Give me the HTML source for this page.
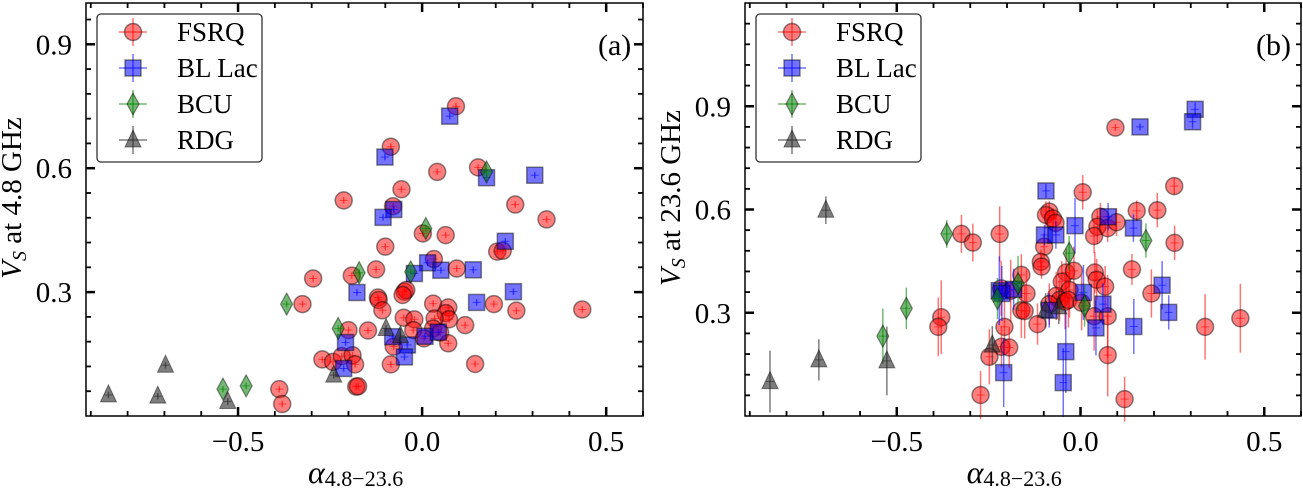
<!DOCTYPE html>
<html><head><meta charset="utf-8"><style>
html,body{margin:0;padding:0;background:#fff;}
svg{display:block;}
svg text{font-family:"Liberation Serif","Times New Roman",serif;}
</style></head><body>
<svg id="fig" width="1303" height="488" viewBox="0 0 1303 488" xmlns="http://www.w3.org/2000/svg" font-family="Liberation Serif, serif">
<g id="pa"></g>
<g id="pb"></g>
</svg>
<script>
// ---- Panel (a) data: alpha_{4.8-23.6} vs V_S at 4.8 GHz ----
const aFsrqX=[.092,-.085,.041,.152,-.056,-.213,-.079,.253,.338,.002,.064,-.100,.204,.219,.032,-.125,.094,-.191,-.296,-.048,-.043,-.053,-.120,-.118,-.325,-.108,.030,.195,.256,.435,.071,.064,.073,-.050,-.021,.034,.117,-.200,-.147,-.024,.030,.049,-.077,.071,.005,-.271,-.242,-.218,-.189,-.182,-.085,.144,-.388,-.380,-.179,-.174];
const aFsrqY=[.750,.652,.591,.602,.549,.522,.508,.512,.476,.442,.438,.410,.398,.400,.380,.355,.357,.340,.333,.301,.305,.293,.287,.281,.271,.256,.272,.271,.255,.258,.263,.249,.234,.238,.234,.236,.220,.208,.207,.208,.212,.202,.168,.176,.188,.137,.131,.145,.147,.125,.125,.126,.065,.029,.071,.072];
const aBllX=[.075,-.101,-.077,-.106,.175,.306,.226,.015,.051,.139,-.177,.248,.148,-.021,-.208,-.080,-.040,-.048,.008,.044,-.213];
const aBllY=[.726,.627,.500,.481,.577,.583,.423,.371,.353,.354,.299,.301,.275,.345,.178,.192,.172,.143,.193,.203,.115];
const aBcuX=[.175,.010,-.031,-.171,-.368,-.228,-.541,-.478];
const aBcuY=[.591,.454,.349,.347,.271,.212,.065,.073];
const aRdgX=[-.852,-.718,-.697,-.528,-.240,-.098,-.059];
const aRdgY=[.051,.048,.123,.035,.099,.212,.194];

// ---- Panel (b) data: alpha_{4.8-23.6} vs V_S at 23.6 GHz ----
const bFsrqX=[.095,.006,.255,.153,.209,-.085,-.094,-.075,-.068,.054,.046,.037,.074,.098,-.324,-.293,-.220,.256,-.099,-.108,-.106,.140,-.161,-.039,-.018,-.051,.039,.044,.067,-.030,-.216,-.190,-.147,-.066,-.057,-.042,-.033,.193,-.085,.003,-.161,-.152,-.379,-.387,-.117,.037,.074,-.207,.339,.435,-.215,-.194,-.248,.074,-.272,.120];
const bFsrqY=[.838,.650,.668,.596,.598,.594,.584,.574,.561,.579,.550,.523,.546,.563,.529,.504,.529,.503,.492,.448,.434,.426,.410,.417,.422,.390,.417,.396,.376,.366,.371,.364,.356,.349,.337,.332,.337,.356,.325,.329,.307,.305,.287,.259,.267,.290,.290,.259,.259,.284,.201,.199,.172,.177,.061,.049];
const bFsrqE=[.01,.05,.025,.03,.05,.03,.04,.03,.03,.04,.05,.05,.04,.04,.055,.055,.08,.05,.04,.035,.035,.045,.06,.07,.07,.06,.06,.06,.06,.08,.08,.09,.07,.07,.06,.08,.08,.07,.06,.08,.08,.08,.107,.085,.06,.1,.12,.08,.095,.1,.06,.06,.08,.12,.07,.065];
const bBllX=[.312,.305,.162,-.094,-.098,-.067,-.015,.075,.144,-.221,-.214,-.182,.008,.222,-.085,.240,.061,.042,.145,-.040,-.209,-.047];
const bBllY=[.891,.855,.840,.654,.526,.526,.553,.579,.546,.364,.356,.368,.359,.380,.307,.301,.325,.256,.260,.187,.126,.097];
const bBllE=[.02,.02,.01,.02,.03,.04,.08,.04,.04,.1,.08,.06,.08,.07,.05,.05,.06,.08,.08,.12,.1,.1];
const bBcuX=[-.364,.178,-.031,-.170,-.226,-.474,-.538,.011];
const bBcuY=[.529,.510,.473,.385,.341,.313,.232,.320];
const bBcuE=[.04,.05,.05,.08,.06,.06,.08,.06];
const bRdgX=[-.693,-.845,-.712,-.527,-.240,-.095,-.059];
const bRdgY=[.598,.100,.163,.160,.206,.307,.317];
const bRdgE=[.04,.09,.06,.1,.055,.05,.05];

const NS="http://www.w3.org/2000/svg";
const FF="Liberation Serif, Times New Roman, serif";
function mk(parent,tag,attrs,text){const e=document.createElementNS(NS,tag);for(const k in attrs)e.setAttribute(k,attrs[k]);if(tag==="text")e.setAttribute("font-family",FF);if(text!==undefined)e.textContent=text;parent.appendChild(e);return e;}

const STY={
 fsrq:{fill:"rgba(255,0,0,0.5)",err:"rgba(255,0,0,0.55)"},
 bll:{fill:"rgba(0,0,255,0.55)",err:"rgba(0,0,255,0.55)"},
 bcu:{fill:"rgba(0,128,0,0.55)",err:"rgba(0,128,0,0.55)"},
 rdg:{fill:"rgba(40,40,40,0.6)",err:"rgba(40,40,40,0.6)"}
};
function marker(g,kind,cx,cy){
 const s=STY[kind];const st="rgba(0,0,0,0.45)";let m;
 if(kind==="fsrq")m=mk(g,"circle",{cx:cx,cy:cy,r:8.5,fill:s.fill,stroke:st,"stroke-width":1.5});
 else if(kind==="bll")m=mk(g,"rect",{x:cx-8,y:cy-8,width:16,height:16,fill:s.fill,stroke:st,"stroke-width":1.5});
 else if(kind==="bcu")m=mk(g,"polygon",{points:`${cx},${cy-11} ${cx+6},${cy} ${cx},${cy+11} ${cx-6},${cy}`,fill:s.fill,stroke:st,"stroke-width":1.2});
 else m=mk(g,"polygon",{points:`${cx},${cy-10} ${cx+8},${cy+7} ${cx-8},${cy+7}`,fill:s.fill,stroke:st,"stroke-width":1});
 return m;
}

function panel(gid,L,R,ymax,ylabel,tag,series){
 const g=document.getElementById(gid);
 const T=3,B=416,xmin=-0.913,xmax=0.6;
 const sx=v=>L+(v-xmin)/(xmax-xmin)*(R-L);
 const sy=v=>B-(v/ymax)*(B-T);
 series.forEach(s=>{
  const sg=mk(g,"g",{});
  
  
  s.x.forEach((xv,i)=>{
   const cx=sx(xv),cy=sy(s.y[i]);const e=s.e?s.e[i]:0.008;
   const eb=mk(sg,"line",{x1:cx,x2:cx,y1:sy(s.y[i]-e),y2:sy(s.y[i]+e),stroke:STY[s.kind].err,"stroke-width":1.5});
   
   
   const m=marker(sg,s.kind,cx,cy);
   
   
   const h=mk(sg,"line",{x1:cx-4,x2:cx+4,y1:cy,y2:cy,stroke:STY[s.kind].err,"stroke-width":1});
   
   
  });
 });
 const fr=mk(g,"rect",{x:L,y:T,width:R-L,height:B-T,fill:"none",stroke:"#000","stroke-width":1.5});
 
 
 for(let k=-9;k<=6;k++){
  const v=k/10,px=sx(v),maj=(k%5===0);const len=maj?9:5,w=maj?2.5:1.8;
  mk(g,"line",{x1:px,x2:px,y1:B,y2:B-len,stroke:"#000","stroke-width":w});
  mk(g,"line",{x1:px,x2:px,y1:T,y2:T+len,stroke:"#000","stroke-width":w});
  if(maj){const t=mk(g,"text",{x:px,y:451,"text-anchor":"middle","font-size":29},(v<0?"\u22120.5":v===0?"0.0":"0.5"));
   
   }
 }
 for(let k=1;k*0.06<ymax;k++){
  const v=k*0.06,py=sy(v),maj=(k%5===0);const len=maj?9:5,w=maj?2.5:1.8;
  mk(g,"line",{x1:L,x2:L+len,y1:py,y2:py,stroke:"#000","stroke-width":w});
  mk(g,"line",{x1:R,x2:R-len,y1:py,y2:py,stroke:"#000","stroke-width":w});
  if(maj){const t=mk(g,"text",{x:L-14,y:py+10,"text-anchor":"end","font-size":29},v.toFixed(1));
   
   }
 }
 const xl=mk(g,"text",{x:sx(-0.31),y:483,"font-size":32,"font-style":"italic"});
 
 
 mk(xl,"tspan",{},"\u03b1");
 mk(xl,"tspan",{"font-size":22,"font-style":"normal",dy:3},"4.8\u221223.6");
 const yl=mk(g,"text",{transform:`translate(${L-65},198) rotate(-90)`,"text-anchor":"middle","font-size":29});
 
 
 mk(yl,"tspan",{"font-style":"italic"},"V");
 mk(yl,"tspan",{"font-size":20,"font-style":"italic",dy:5},"S");
 mk(yl,"tspan",{dy:-5}," "+ylabel);
 const tg=mk(g,"text",{x:R-45,y:55,"font-size":30},tag);
 
 
 const lg=mk(g,"g",{});
 
 
 const lx=L+11;
 mk(lg,"rect",{x:lx,y:14,width:165,height:148,rx:4,fill:"#fff",stroke:"#333","stroke-width":1.3});
 const labs=[["fsrq","FSRQ"],["bll","BL Lac"],["bcu","BCU"],["rdg","RDG"]];
 labs.forEach((p,i)=>{
  const cy=32+i*36,cx=lx+36;
  const e=mk(lg,"g",{});
  
  
  mk(e,"line",{x1:cx-14,x2:cx+14,y1:cy,y2:cy,stroke:STY[p[0]].err,"stroke-width":1.5});
  mk(e,"line",{x1:cx,x2:cx,y1:cy-14,y2:cy+14,stroke:STY[p[0]].err,"stroke-width":1.5});
  marker(e,p[0],cx,cy);
  mk(e,"text",{x:lx+80,y:cy+9,"font-size":27},p[1]);
 });
}

panel("pa",86,643,1.0,"at 4.8 GHz","(a)",[
 {name:"fsrq",kind:"fsrq",x:aFsrqX,y:aFsrqY},
 {name:"bl-lac",kind:"bll",x:aBllX,y:aBllY},
 {name:"bcu",kind:"bcu",x:aBcuX,y:aBcuY},
 {name:"rdg",kind:"rdg",x:aRdgX,y:aRdgY}
]);
panel("pb",745,1301,1.2,"at 23.6 GHz","(b)",[
 {name:"fsrq",kind:"fsrq",x:bFsrqX,y:bFsrqY,e:bFsrqE},
 {name:"bl-lac",kind:"bll",x:bBllX,y:bBllY,e:bBllE},
 {name:"bcu",kind:"bcu",x:bBcuX,y:bBcuY,e:bBcuE},
 {name:"rdg",kind:"rdg",x:bRdgX,y:bRdgY,e:bRdgE}
]);
</script>
</body></html>
